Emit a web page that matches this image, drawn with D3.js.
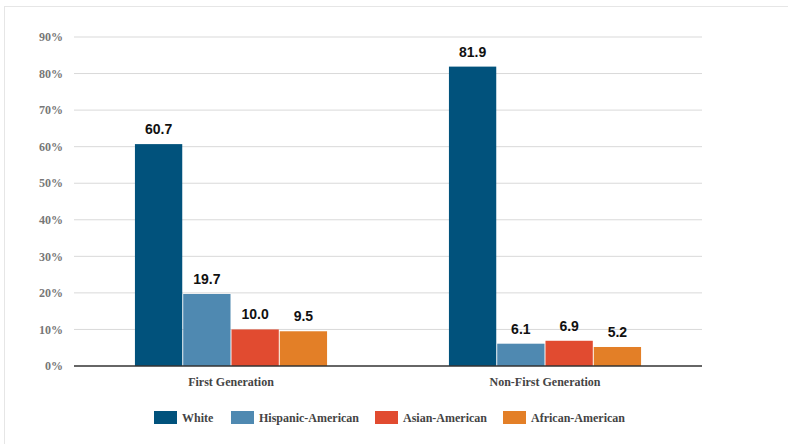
<!DOCTYPE html>
<html>
<head>
<meta charset="utf-8">
<script src="https://cdn.jsdelivr.net/npm/d3@7"></script>
<style>
  body { margin: 0; background: #fff; }
  svg { display: block; }
  .serif { font-family: "Liberation Serif", "Times New Roman", Times, "DejaVu Serif", serif; }
</style>
</head>
<body>
<svg id="chart"></svg>
<script>
const groups = ["First Generation", "Non-First Generation"];
const races = ["White", "Hispanic-American", "Asian-American", "African-American"];
const firstGen = [60.7, 19.7, 10.0, 9.5];
const nonFirstGen = [81.9, 6.1, 6.9, 5.2];
const yTicks = [0, 10, 20, 30, 40, 50, 60, 70, 80, 90];
const legendX = [154, 231, 375, 503];

const colors = {
  "White": "#01527c",
  "Hispanic-American": "#4f89b1",
  "Asian-American": "#e14b30",
  "African-American": "#e37f27"
};

const W = 788, H = 444;
const margin = { top: 37, right: 86, bottom: 78, left: 74 };
const width = W - margin.left - margin.right;
const height = H - margin.top - margin.bottom;

const svg = d3.select("#chart").attr("width", W).attr("height", H);

// outer frame
svg.append("rect")
  .attr("x", 4.5).attr("y", 6.5)
  .attr("width", W).attr("height", H)
  .attr("fill", "none")
  .attr("stroke", "#e6e6e6");

const g = svg.append("g").attr("transform", `translate(${margin.left},${margin.top})`);

const data = groups.map((grp, i) => ({
  group: grp,
  values: races.map((r, j) => ({ race: r, value: (i === 0 ? firstGen : nonFirstGen)[j] }))
}));

const x0 = d3.scaleBand().domain(groups).range([0, width]).paddingInner(0).paddingOuter(0);
const x1 = d3.scaleBand().domain(races).range([0, x0.bandwidth() * 0.618]).padding(0.02);
const y = d3.scaleLinear().domain([0, 90]).range([height, 0]);

// gridlines
g.selectAll(".grid")
  .data(yTicks.filter(d => d > 0))
  .enter().append("line")
  .attr("x1", 0).attr("x2", width)
  .attr("y1", d => y(d)).attr("y2", d => y(d))
  .attr("stroke", "#d9d9d9")
  .attr("stroke-width", 1);

// y labels
g.selectAll(".ylab")
  .data(yTicks)
  .enter().append("text")
  .attr("class", "serif")
  .attr("x", -11)
  .attr("y", d => y(d))
  .attr("dy", "0.35em")
  .attr("text-anchor", "end")
  .style("font-weight", "bold")
  .style("font-size", "12px")
  .style("fill", "#777")
  .text(d => d + "%");

const offset = x0.bandwidth() * (1 - 0.618) / 2;

const grp = g.selectAll(".grp")
  .data(data)
  .enter().append("g")
  .attr("transform", d => `translate(${x0(d.group) + offset},0)`);

grp.selectAll("rect")
  .data(d => d.values)
  .enter().append("rect")
  .attr("x", d => x1(d.race))
  .attr("y", d => y(d.value))
  .attr("width", x1.bandwidth())
  .attr("height", d => height - y(d.value))
  .attr("fill", d => colors[d.race]);

grp.selectAll(".val")
  .data(d => d.values)
  .enter().append("text")
  .attr("x", d => x1(d.race) + x1.bandwidth() / 2)
  .attr("y", d => y(d.value) - 10)
  .attr("text-anchor", "middle")
  .style("font-family", "'Liberation Sans', Arial, sans-serif")
  .style("font-weight", "bold")
  .style("font-size", "14px")
  .style("fill", "#111")
  .text(d => d.value.toFixed(1));

// baseline
g.append("line")
  .attr("x1", 0).attr("x2", width)
  .attr("y1", height).attr("y2", height)
  .attr("stroke", "#333")
  .attr("stroke-width", 1.5);

// category labels
g.selectAll(".cat")
  .data(groups)
  .enter().append("text")
  .attr("class", "serif")
  .attr("x", d => x0(d) + x0.bandwidth() / 2)
  .attr("y", height + 20)
  .attr("text-anchor", "middle")
  .style("font-weight", "bold")
  .style("font-size", "12px")
  .style("fill", "#444")
  .text(d => d);

// legend
const legend = svg.selectAll(".leg")
  .data(races)
  .enter().append("g")
  .attr("transform", (d, i) => `translate(${legendX[i]},411)`);

legend.append("rect")
  .attr("width", 23).attr("height", 13)
  .attr("fill", d => colors[d]);

legend.append("text")
  .attr("class", "serif")
  .attr("x", 28).attr("y", 11)
  .style("font-weight", "bold")
  .style("font-size", "12px")
  .style("fill", "#444")
  .text(d => d);
</script>
</body>
</html>
